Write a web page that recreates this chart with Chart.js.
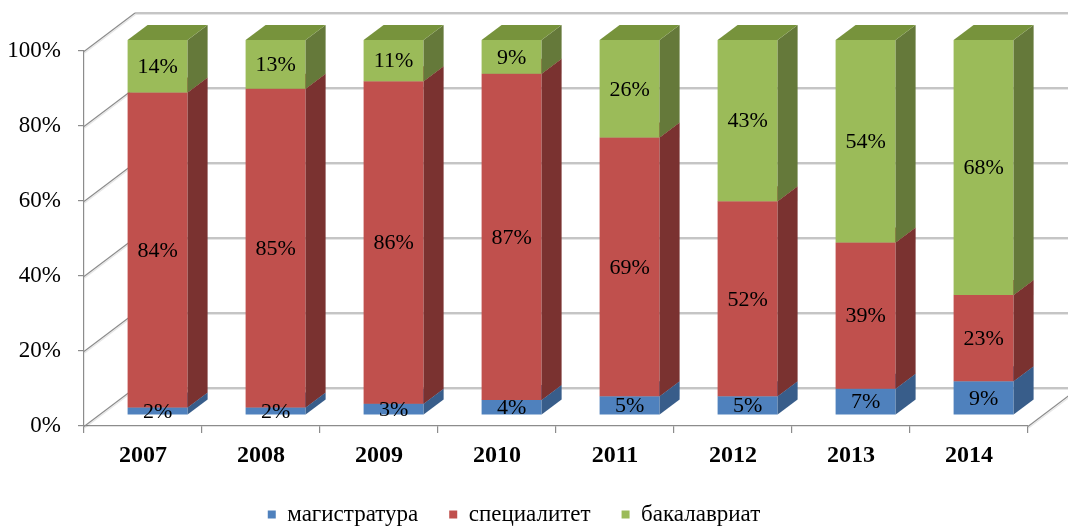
<!DOCTYPE html>
<html><head><meta charset="utf-8">
<script src="https://cdn.jsdelivr.net/npm/chart.js@4.4.1/dist/chart.umd.min.js"></script>
<style>html,body{margin:0;padding:0;background:#fff;}#wrap{width:1068px;height:528px;}</style>
</head><body><div id="wrap"><canvas id="c" width="1068" height="528"></canvas></div>
<script>
const years = ['2007','2008','2009','2010','2011','2012','2013','2014'];
const magistratura = [2,2,3,4,5,5,7,9];
const specialitet = [84,85,86,87,69,52,39,23];
const bakalavriat = [14,13,11,9,26,43,54,68];
const seriesNames = ['магистратура','специалитет','бакалавриат'];
const yTicks = [0,20,40,60,80,100];

const FONT = 'Liberation Serif';
const WALL = {dx:51, dy:-38.5};
const BAR_OFF = {dx:14.6, dy:-11};
const BAR_DEPTH = {dx:20, dy:-15};
const frontColors = ['#4F81BD','#C0504D','#9BBB59'];
const faceColors = [
  {side:'#385D8A', top:'#44709F'},
  {side:'#7A3230', top:'#9C403D'},
  {side:'#65793A', top:'#77933C'}
];

const threeD = {
  id:'threeD',
  beforeDatasetsDraw(chart){
    const {ctx, chartArea:a, scales:{y}} = chart;
    ctx.save();
    const seg = (x1,y1,x2,y2,col,w)=>{
      ctx.strokeStyle = col; ctx.lineWidth = w;
      ctx.beginPath(); ctx.moveTo(x1,y1); ctx.lineTo(x2,y2); ctx.stroke();
    };
    const drawLine = (x1,y1,x2,y2)=>{
      seg(x1+0.5,y1+1.5,x2+0.5,y2+1.5,'rgba(0,0,0,0.10)',1.2);
      seg(x1,y1,x2,y2,'#8C8C8C',1.2);
    };
    yTicks.forEach(v=>{
      const py = Math.round(y.getPixelForValue(v)) + 0.5;
      drawLine(a.left, py, a.left+WALL.dx, py+WALL.dy);
      drawLine(a.left+WALL.dx, py+WALL.dy, a.right+WALL.dx, py+WALL.dy);
    });
    const pb = Math.round(y.getPixelForValue(0)) + 0.5;
    drawLine(a.right, pb, a.right+WALL.dx, pb+WALL.dy);
    ctx.restore();
  },
  beforeDatasetDraw(){ return false; },
  afterDatasetsDraw(chart){
    const ctx = chart.ctx;
    const dx = BAR_DEPTH.dx, dy = BAR_DEPTH.dy;
    chart.data.datasets.forEach((ds, i)=>{
      const meta = chart.getDatasetMeta(i);
      const c = faceColors[i];
      ctx.save();
      ctx.translate(BAR_OFF.dx, BAR_OFF.dy);
      meta.data.forEach(el=>{
        el.draw(ctx);
        const p = el.getProps(['x','y','base','width'], true);
        const l = p.x - p.width/2, r = p.x + p.width/2;
        const top = Math.min(p.y, p.base), bot = Math.max(p.y, p.base);
        ctx.fillStyle = c.side;
        ctx.beginPath();
        ctx.moveTo(r, bot); ctx.lineTo(r+dx, bot+dy); ctx.lineTo(r+dx, top+dy); ctx.lineTo(r, top);
        ctx.closePath(); ctx.fill();
        ctx.fillStyle = c.top;
        ctx.beginPath();
        ctx.moveTo(l, top); ctx.lineTo(l+dx, top+dy); ctx.lineTo(r+dx, top+dy); ctx.lineTo(r, top);
        ctx.closePath(); ctx.fill();
      });
      ctx.restore();
    });
    ctx.save();
    ctx.font = '22px "' + FONT + '"';
    ctx.fillStyle = '#000';
    ctx.textAlign = 'center';
    ctx.textBaseline = 'middle';
    chart.data.datasets.forEach((ds, i)=>{
      const meta = chart.getDatasetMeta(i);
      meta.data.forEach((el, j)=>{
        const p = el.getProps(['x','y','base'], true);
        ctx.fillText(ds.data[j] + '%', p.x + BAR_OFF.dx, (p.y + p.base)/2 + BAR_OFF.dy + 1);
      });
    });
    ctx.restore();
  }
};

new Chart(document.getElementById('c'), {
  type:'bar',
  data:{
    labels: years,
    datasets:[
      {label: seriesNames[0], data: magistratura, backgroundColor: frontColors[0]},
      {label: seriesNames[1], data: specialitet, backgroundColor: frontColors[1]},
      {label: seriesNames[2], data: bakalavriat, backgroundColor: frontColors[2]}
    ]
  },
  options:{
    responsive:false, animation:false, devicePixelRatio:1, events:[],
    layout:{padding:{left:0, right:40, top:51, bottom:0}},
    datasets:{bar:{categoryPercentage:1, barPercentage:60/118, borderWidth:0, clip:false}},
    scales:{
      x:{
        stacked:true,
        grid:{offset:true, drawOnChartArea:false, drawTicks:true, tickLength:7, color:'#8C8C8C', lineWidth:1.2},
        border:{color:'#8C8C8C', width:1.2},
        ticks:{font:{family:FONT, size:24, weight:'bold'}, color:'#000', padding:8},
        afterFit(s){ s.height = 46; }
      },
      y:{
        stacked:true, min:0, max:100,
        afterBuildTicks(s){ s.ticks = yTicks.map(v=>({value:v})); },
        ticks:{callback:v=>v+'%', font:{family:FONT, size:23}, color:'#000', padding:17},
        grid:{drawOnChartArea:false, drawTicks:true, tickLength:6, color:'#8C8C8C', lineWidth:1.2},
        border:{color:'#8C8C8C', width:1.2},
        afterFit(s){ s.width = 84; }
      }
    },
    plugins:{
      legend:{position:'bottom', maxHeight:56,
        labels:{boxWidth:8, boxHeight:8, padding:31, color:'#000', font:{family:FONT, size:23}}},
      tooltip:{enabled:false}
    }
  },
  plugins:[threeD]
});
</script>
</body></html>
